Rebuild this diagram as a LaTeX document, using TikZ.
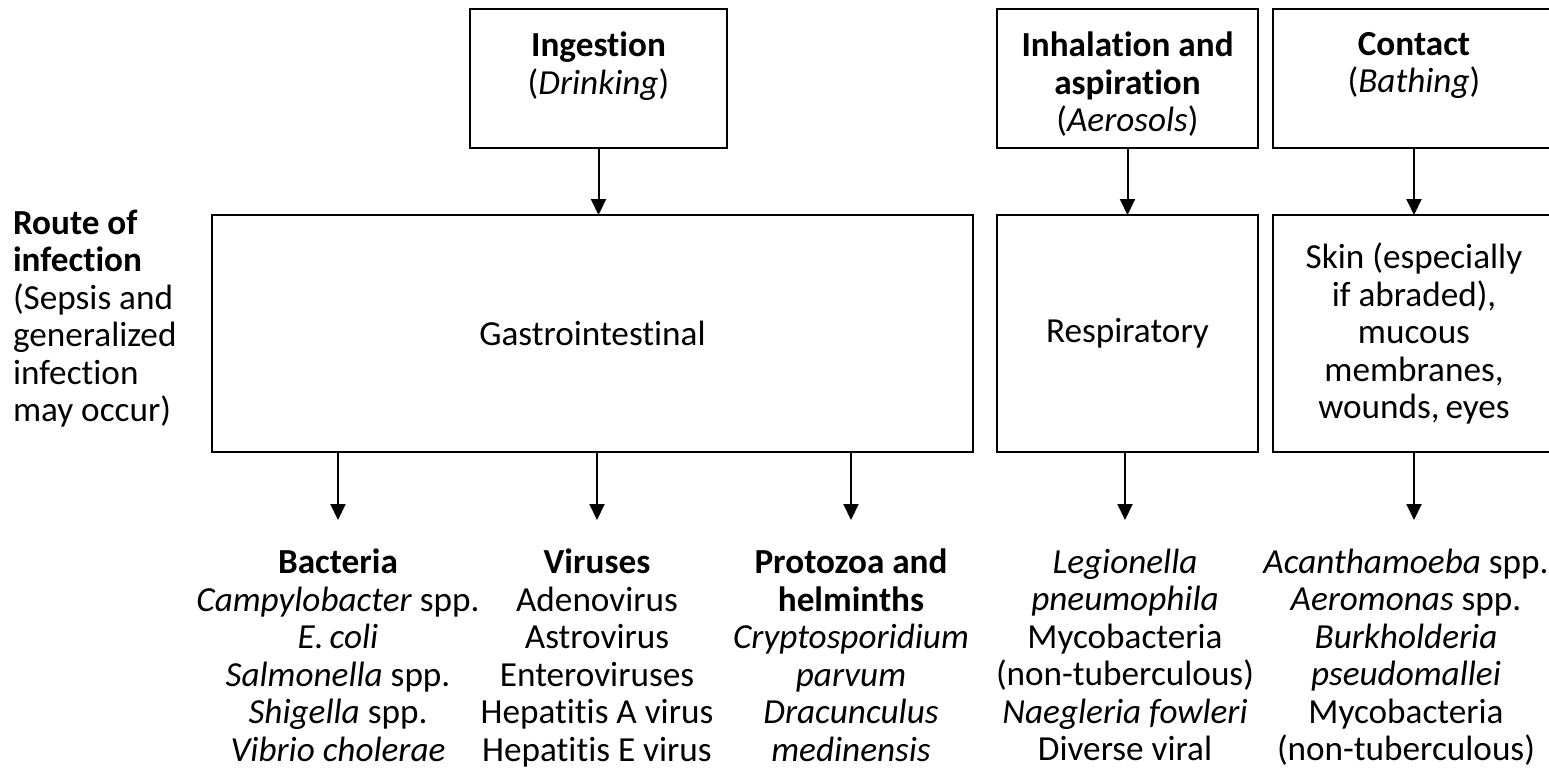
\documentclass[tikz,border=0pt]{standalone}
\usepackage{fontspec}
\setmainfont[Ligatures=NoCommon]{Carlito}
\usetikzlibrary{arrows.meta}

\begin{document}
\begin{tikzpicture}[
        x=0.5pt, y=-0.5pt,
        line width=1pt,
        font=\fontsize{17.6}{18.75}\selectfont,
        box/.style={draw,line width=1.2pt,inner sep=0pt,outer sep=0pt},
        source/.style={box,minimum height=69.5pt},
        route/.style={box,minimum height=118.5pt},
        head/.style={anchor=north,align=center,inner sep=0pt},
        agents/.style={anchor=north,align=center,inner xsep=0pt,inner ysep=14.5pt,outer sep=0pt},
        arr/.style={-{Triangle[length=8pt,width=7.5pt]}},
      ]

      \useasboundingbox (0,0) rectangle (1549,768);
      \clip (0,0) rectangle (1549,768);

      \node[source,minimum width=128.5pt] (ingest) at (598.5,78.5) {};
      \node[source,minimum width=130.5pt] (inhale) at (1127.5,78.5) {};
      \node[source,minimum width=141pt] (contact) at (1414,78.5) {};

      \node[head] (ingestlbl) at ([yshift=-11pt]ingest.north) {\textbf{Ingestion}\\(\textit{Drinking})};
      \node[head] (inhalelbl) at ([yshift=-11pt]inhale.north) {\textbf{Inhalation and}\\\textbf{aspiration}\\(\textit{Aerosols})};
      \node[head] (contactlbl) at ([yshift=-11pt]contact.north) {\textbf{Contact}\\(\textit{Bathing})};

      \node[route,minimum width=380.5pt] (gastro) at (592.5,333.5) {Gastrointestinal};
      \node[route,minimum width=130.5pt] (resp) at (1127.5,333.5) {Respiratory};
      \node[route,minimum width=141pt,align=center] (skin) at (1414,333.5) {Skin (especially\\if abraded),\\mucous\\membranes,\\wounds,\,eyes};

      \node[anchor=north west,align=left,inner sep=0pt] (routelbl) at (12,209)
        {\textbf{Route of}\\\textbf{infection}\\(Sepsis and\\generalized\\infection\\may occur)};

      \node[agents] (bact) at (338,520) {\textbf{Bacteria}\\\textit{Campylobacter} spp.\\\textit{E.\,coli}\\\textit{Salmonella} spp.\\\textit{Shigella} spp.\\\textit{Vibrio cholerae}};
      \node[agents] (virus) at (597,520) {\textbf{Viruses}\\Adenovirus\\Astrovirus\\Enteroviruses\\Hepatitis A virus\\Hepatitis E virus};
      \node[agents] (proto) at (851,520) {\textbf{Protozoa and}\\\textbf{helminths}\\\textit{Cryptosporidium}\\\textit{parvum}\\\textit{Dracunculus}\\\textit{medinensis}};
      \node[agents] (legio) at (1125,520) {\textit{Legionella}\\\textit{pneumophila}\\Mycobacteria\\(non-tuberculous)\\\textit{Naegleria fowleri}\\Diverse viral};
      \node[agents] (acanth) at (1406,520) {\textit{Acanthamoeba} spp.\\\textit{Aeromonas} spp.\\\textit{Burkholderia}\\\textit{pseudomallei}\\Mycobacteria\\(non-tuberculous)};

      \draw[arr] (ingest.south) -- (ingest.south |- gastro.north);
      \draw[arr] (inhale.south) -- (inhale.south |- resp.north);
      \draw[arr] (contact.south) -- (contact.south |- skin.north);

      \draw[arr] (gastro.south -| bact.north) -- (bact.north);
      \draw[arr] (gastro.south -| virus.north) -- (virus.north);
      \draw[arr] (gastro.south -| proto.north) -- (proto.north);
      \draw[arr] (resp.south -| legio.north) -- (legio.north);
      \draw[arr] (skin.south) -- (skin.south |- acanth.north);

    \end{tikzpicture}
\end{document}
